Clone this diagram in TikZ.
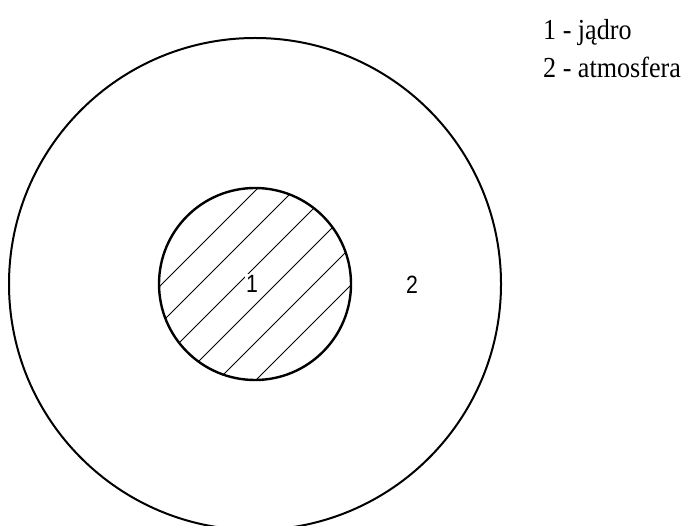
\documentclass[tikz,border=0pt]{standalone}
\usepackage{fontspec}
\setmainfont{Liberation Serif}
\newfontfamily\labelsans{Liberation Sans}
\begin{document}
\begin{tikzpicture}[x=1pt,y=-1pt,
  ring/.style={circle, draw=black, inner sep=0pt},
  hatchline/.style={draw=black, line width=0.8pt},
  numlabel/.style={font=\labelsans\fontsize{25}{25}\selectfont, xscale=0.85, inner sep=0pt},
  legendtext/.style={font=\fontsize{29}{29}\selectfont, xscale=0.9, anchor=base west, inner sep=0pt}]
\clip (0,0) rectangle (684,526);
\fill[white] (0,0) rectangle (684,526);
% outer circle (atmosphere)
\node[ring, line width=2pt, minimum size=492pt] (outer) at (255,284) {};
% hatching of the core
\begin{scope}
  \clip (255,284) circle (96);
  \foreach \k in {-93,-55,-17,21,59,97} {
    \draw[hatchline] ({255+\k/2-150},{284+\k/2+150}) -- ({255+\k/2+150},{284+\k/2-150});
  }
\end{scope}
% inner circle (core)
\node[ring, line width=2.4pt, minimum size=192pt] (core) at (255,284) {};
\node[numlabel, fill=white, inner sep=1pt] (l1) at (252,284) {1};
\node[numlabel] (l2) at (412,285) {2};
% legend
\node[legendtext] (leg1) at (543,40) {1 - jądro};
\node[legendtext] (leg2) at (543,78) {2 - atmosfera};
\end{tikzpicture}
\end{document}
